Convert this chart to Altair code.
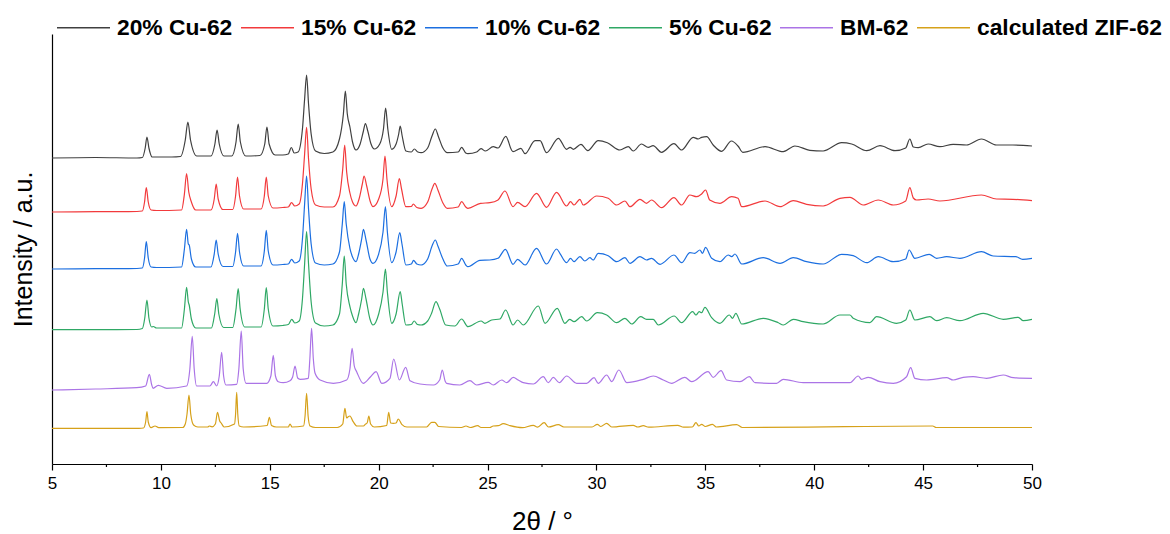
import altair as alt
import pandas as pd

SERIES = ["20% Cu-62", "15% Cu-62", "10% Cu-62", "5% Cu-62", "BM-62", "calculated ZIF-62"]
COLORS = ["#404040", "#f23a3c", "#1c6fe0", "#2fa865", "#ab74e6", "#d6a11a"]

# 2theta (deg) and stacked intensity (a.u., offsets included)
BLACK_X = [5.0, 7.0, 8.9, 9.15, 9.28, 9.36, 9.45, 9.6, 10.5, 10.9, 11.12, 11.24, 11.36, 11.65, 12.3, 12.48, 12.58, 12.68, 12.9, 13.25, 13.45, 13.55, 13.65, 13.9, 14.55, 14.77, 14.87, 14.97, 15.25, 15.6, 15.85, 15.99, 16.12, 16.3, 16.5, 16.6, 16.69, 16.78, 16.9, 17.1, 17.5, 17.9, 18.2, 18.38, 18.47, 18.56, 18.68, 18.8, 18.96, 19.15, 19.3, 19.39, 19.5, 19.65, 19.8, 20.05, 20.22, 20.32, 20.42, 20.6, 20.8, 20.92, 20.99, 21.08, 21.25, 21.5, 21.64, 21.8, 21.95, 22.25, 22.45, 22.6, 22.75, 22.95, 23.15, 23.65, 23.81, 24.0, 24.1, 24.5, 24.7, 24.9, 25.26, 25.48, 25.84, 26.1, 26.17, 26.53, 26.72, 27.18, 27.41, 27.71, 28.25, 28.63, 28.79, 28.94, 29.29, 29.6, 30.08, 30.5, 31.08, 31.46, 31.69, 32.07, 32.38, 32.6, 32.99, 33.56, 33.91, 34.44, 34.67, 34.83, 35.06, 35.36, 35.75, 36.2, 36.5, 36.72, 37.74, 38.58, 39.11, 39.8, 40.41, 41.26, 41.72, 42.41, 43.02, 43.71, 44.2, 44.39, 44.55, 44.78, 45.23, 45.77, 46.38, 46.99, 47.68, 48.37, 49.12, 50.0]
BLACK_Y = [306, 306.5, 306, 306.5, 316, 327, 316, 307, 307, 307.5, 324, 342, 324, 308, 308, 320, 334, 320, 308, 308, 322, 340, 322, 308, 308.5, 320, 337, 320, 309, 309, 310, 316.5, 311, 312, 335, 365, 389, 360, 330, 313, 310.5, 312, 325, 350, 373, 350, 337, 322, 314, 320, 333, 340.5, 333, 320, 315, 320, 335, 356, 335, 314.7, 320, 330, 338, 328, 313, 312, 315, 312, 311.3, 316, 328, 335, 327, 316, 311.3, 312, 316.7, 311, 310.3, 312, 315.3, 313, 317.3, 316, 327.7, 314, 312.3, 315.7, 310.3, 323.3, 323.3, 311.3, 325.7, 314.7, 316.7, 314.7, 319.7, 313.3, 323.3, 321.3, 314, 317.3, 313, 320, 316.7, 318.3, 311.7, 320.3, 314, 326.7, 325, 326.7, 327.3, 319, 312.7, 323, 318, 311.7, 317.3, 312.3, 318, 313.7, 313, 321.3, 320, 313.3, 318.3, 313.3, 316, 325, 317, 316.3, 320, 317.3, 319.7, 319, 325, 319, 319, 318]

RED_X = [5.0, 7.0, 8.9, 9.15, 9.25, 9.33, 9.42, 9.55, 9.8, 10.95, 11.08, 11.18, 11.28, 11.4, 11.6, 12.3, 12.45, 12.54, 12.63, 12.85, 13.3, 13.43, 13.52, 13.61, 13.8, 14.6, 14.75, 14.84, 14.93, 15.15, 15.6, 15.85, 16.0, 16.15, 16.35, 16.5, 16.6, 16.69, 16.78, 16.9, 17.1, 17.5, 17.9, 18.2, 18.35, 18.44, 18.53, 18.68, 18.8, 18.96, 19.1, 19.25, 19.33, 19.45, 19.62, 19.74, 20.0, 20.2, 20.29, 20.38, 20.6, 20.8, 20.95, 21.05, 21.25, 21.5, 21.59, 21.75, 21.95, 22.25, 22.45, 22.58, 22.72, 22.95, 23.15, 23.65, 23.81, 24.0, 24.1, 24.68, 25.11, 25.48, 25.8, 26.17, 26.38, 26.72, 27.25, 27.71, 28.17, 28.63, 28.81, 28.97, 29.24, 29.39, 30.01, 30.54, 30.93, 31.31, 31.54, 32.0, 32.3, 32.53, 32.99, 33.56, 33.91, 34.29, 34.6, 34.83, 35.01, 35.2, 35.67, 36.21, 36.5, 36.67, 37.74, 38.43, 39.04, 39.65, 40.41, 41.18, 41.64, 42.25, 42.94, 43.63, 44.2, 44.39, 44.55, 44.7, 45.23, 45.77, 47.68, 48.37, 49.12, 50.0]
RED_Y = [252, 252.3, 252.5, 253, 262, 276.5, 262, 254, 253.5, 254, 270, 290.5, 272, 262, 254, 254, 265, 280, 265, 254.5, 254.5, 268, 287, 268, 255, 255, 268, 287, 268, 256, 256.5, 257, 261.3, 258, 260, 280, 310, 336.7, 305, 275, 259, 257, 257, 268, 295, 319, 292, 271, 262, 258, 265, 280, 288, 278, 262, 257.3, 265, 285, 308, 285, 257.3, 268, 285.3, 275, 257.3, 257.5, 260, 256.5, 255.7, 262, 275, 280.7, 274, 261, 255.7, 257, 262.3, 257, 255.7, 260.7, 261.3, 264, 273, 257.3, 261.7, 257.3, 270.7, 256.7, 271.7, 258, 262.3, 259, 264.7, 259, 268, 265.7, 259, 263, 257.3, 264.7, 260.7, 264, 256.3, 266.3, 259, 269, 267.3, 270, 274, 264, 260.7, 267.3, 265.7, 257.3, 263, 257.3, 263.3, 259.7, 258, 265.7, 266.7, 259, 264, 259, 263, 276.3, 266, 264, 265, 263, 269, 265, 264.7, 263.3]

BLUE_X = [5.0, 7.0, 8.9, 9.15, 9.25, 9.33, 9.42, 9.55, 9.8, 10.95, 11.08, 11.18, 11.26, 11.3, 11.4, 11.6, 12.3, 12.45, 12.54, 12.63, 12.85, 13.3, 13.43, 13.52, 13.61, 13.8, 14.6, 14.75, 14.84, 14.93, 15.15, 15.6, 15.85, 16.0, 16.15, 16.35, 16.5, 16.6, 16.69, 16.78, 16.9, 17.1, 17.5, 17.9, 18.2, 18.33, 18.42, 18.51, 18.68, 18.8, 18.96, 19.08, 19.22, 19.3, 19.42, 19.6, 19.74, 20.0, 20.2, 20.31, 20.4, 20.6, 20.8, 20.97, 21.07, 21.25, 21.5, 21.6, 21.75, 21.95, 22.25, 22.45, 22.6, 22.72, 22.95, 23.15, 23.65, 23.81, 24.0, 24.1, 24.65, 25.1, 25.48, 25.82, 26.17, 26.38, 26.72, 27.25, 27.71, 28.17, 28.32, 28.63, 28.81, 28.97, 29.24, 29.47, 29.7, 29.85, 30.08, 30.54, 30.93, 31.31, 31.54, 32.0, 32.3, 32.53, 32.92, 33.56, 33.91, 34.29, 34.52, 34.75, 34.87, 35.01, 35.29, 35.67, 36.05, 36.21, 36.36, 36.67, 37.66, 38.43, 39.04, 39.65, 40.41, 41.26, 41.79, 42.41, 42.94, 43.63, 44.2, 44.36, 44.62, 45.28, 45.62, 46.08, 46.69, 47.68, 48.22, 49.26, 49.57, 50.0]
BLUE_Y = [195, 195.3, 195.5, 196, 206, 222.3, 206, 197, 196.5, 197, 215, 234.7, 220, 219, 205, 197, 197, 210, 224, 210, 197.5, 197.5, 212, 230.7, 212, 198, 198, 213, 233.7, 213, 199, 199.5, 200, 204.7, 201, 203, 225, 260, 288, 255, 220, 201, 199, 200, 212, 240, 262.3, 240, 215.7, 207, 202.3, 210, 225, 234.7, 224, 205, 200.7, 210, 232, 257.3, 232, 201.3, 212, 231.3, 220, 199, 200, 203.7, 200, 199, 205, 218, 224, 218, 205, 198, 200, 205.7, 199, 197.3, 203.7, 204, 205.7, 214.7, 199.7, 204.7, 199, 215.7, 200, 215, 210.7, 201.3, 205.7, 202.3, 207.3, 203, 206.3, 204, 210.7, 208.3, 202.3, 206.3, 200.7, 207.3, 204, 205.7, 199.7, 209, 201.3, 211.3, 210.7, 214, 210.7, 216.7, 205.7, 202.3, 209, 207.3, 210, 200, 206.3, 200.7, 206.3, 202.3, 200, 209.7, 208.3, 201.3, 207.3, 202.3, 205, 214, 205.7, 209.7, 205.7, 207.3, 205.7, 212.3, 208, 207.3, 204.7, 205.7]

GREEN_X = [5.0, 7.0, 8.9, 9.15, 9.26, 9.36, 9.45, 9.58, 9.65, 9.8, 10.95, 11.08, 11.18, 11.26, 11.3, 11.4, 11.6, 12.32, 12.47, 12.57, 12.66, 12.88, 13.3, 13.45, 13.55, 13.64, 13.85, 14.6, 14.75, 14.84, 14.93, 15.15, 15.6, 15.85, 16.01, 16.15, 16.35, 16.5, 16.6, 16.69, 16.78, 16.9, 17.1, 17.5, 17.9, 18.2, 18.33, 18.42, 18.51, 18.68, 18.8, 18.96, 19.08, 19.22, 19.3, 19.42, 19.6, 19.74, 20.0, 20.2, 20.31, 20.4, 20.6, 20.8, 20.99, 21.08, 21.25, 21.5, 21.63, 21.78, 21.95, 22.25, 22.43, 22.63, 22.8, 23.08, 23.5, 23.81, 24.1, 24.7, 24.88, 25.19, 25.57, 25.83, 26.17, 26.38, 26.64, 27.33, 27.64, 28.2, 28.55, 28.77, 28.97, 29.32, 29.55, 30.04, 30.47, 30.93, 31.31, 31.62, 32.03, 32.3, 32.61, 32.84, 33.57, 33.91, 34.42, 34.57, 34.72, 34.83, 34.98, 35.29, 35.67, 36.1, 36.25, 36.4, 36.67, 37.66, 38.35, 38.58, 39.04, 39.49, 40.41, 41.18, 41.64, 41.79, 42.56, 42.86, 43.78, 44.2, 44.39, 44.62, 45.31, 45.62, 46.08, 46.69, 47.76, 48.68, 49.37, 49.6, 50.0]
GREEN_Y = [134.3, 134.4, 134.5, 135.5, 146, 164, 146, 137, 137.5, 136, 136, 155, 176.7, 162, 159, 145, 136, 136, 150, 165.3, 150, 136.5, 136.5, 155, 175.3, 155, 137, 137, 155, 176.3, 155, 138, 138.5, 139.5, 144.7, 141, 143, 165, 200, 232.3, 200, 162, 141, 138, 139, 150, 180, 208, 180, 157.3, 148, 141.3, 150, 165, 175.7, 165, 145, 139, 150, 172, 195, 172, 140.7, 150, 172.3, 160, 139, 139.5, 143, 139.5, 139, 143, 150.7, 162.3, 155, 139, 138, 145, 137.3, 143, 140.7, 144, 145, 154, 139, 144, 139, 158, 140.7, 155.7, 140.7, 144.7, 142.3, 147.3, 143, 151.3, 149, 141.3, 145.7, 140, 147.3, 144.7, 144.7, 139, 148, 141.3, 152.3, 149, 152.3, 151.3, 156.7, 146.3, 140.7, 149, 145.7, 150.7, 140, 145.7, 141.3, 139, 144.7, 142.3, 140, 149, 149, 145.7, 141.3, 147.3, 140.7, 144, 154, 144, 147.3, 143.3, 146.3, 143.3, 150.7, 144.7, 146.7, 143.3, 144.7]

PURPLE_X = [5.0, 7.0, 8.89, 9.3, 9.47, 9.58, 9.64, 9.88, 10.27, 11.18, 11.33, 11.44, 11.53, 11.64, 12.25, 12.41, 12.56, 12.68, 12.79, 12.88, 12.99, 13.48, 13.58, 13.69, 13.78, 13.91, 14.86, 15.05, 15.16, 15.26, 15.39, 15.62, 15.93, 16.05, 16.16, 16.28, 16.39, 16.77, 16.84, 16.92, 17.0, 17.08, 17.31, 17.92, 18.53, 18.68, 18.78, 18.88, 18.99, 19.29, 19.63, 19.88, 20.14, 20.52, 20.69, 20.95, 21.24, 21.44, 21.9, 22.51, 22.8, 22.92, 23.05, 23.12, 23.73, 24.19, 24.5, 25.03, 25.26, 25.65, 25.88, 26.18, 26.41, 26.64, 27.1, 27.56, 27.79, 28.02, 28.29, 28.63, 29.09, 29.55, 29.89, 30.08, 30.47, 30.7, 31.03, 31.39, 32.15, 32.61, 33.07, 33.45, 34.06, 34.37, 35.13, 35.36, 35.72, 35.98, 36.59, 37.02, 37.28, 38.27, 38.58, 39.49, 40.26, 41.64, 42.02, 42.17, 42.48, 43.02, 43.63, 44.24, 44.43, 44.62, 45.16, 46.08, 46.38, 46.84, 47.3, 47.91, 48.68, 49.14, 50.0]
PURPLE_Y = [74, 75, 76.3, 78, 89.7, 79, 75.7, 78.7, 75.7, 78, 95, 127.7, 95, 78, 78, 82.3, 78, 88, 111.7, 88, 79, 79.7, 95, 133, 95, 80.7, 80.7, 88, 108.7, 88, 82.3, 81.3, 83.3, 87, 98, 86, 84.7, 85.7, 105, 135.7, 105, 90.7, 84, 80.7, 84, 95, 115.7, 98, 92.3, 80.7, 87.3, 92.3, 80.7, 85.7, 105, 84, 96.7, 83.3, 80, 79, 84, 94, 83, 80.7, 79, 83.3, 79, 81.7, 79, 84, 81.3, 86.7, 84, 81.3, 80, 87.3, 81.3, 86.7, 81.3, 88, 80.7, 80.7, 86.3, 80.7, 89, 82.3, 94, 81.3, 84.7, 88, 84, 80.7, 86.7, 82.3, 92.3, 86.7, 93.3, 84, 82.3, 87.3, 81.3, 80.7, 84.7, 81.3, 81.3, 81.3, 88, 84.7, 86.7, 82.3, 80.7, 87.3, 96.3, 85.7, 84, 86.3, 84, 86.7, 87.3, 85.7, 89, 86.3, 85.7]

GOLD_X = [5.0, 7.0, 9.0, 9.2, 9.3, 9.36, 9.42, 9.55, 9.73, 9.9, 11.0, 11.12, 11.2, 11.29, 11.37, 11.5, 11.7, 12.15, 12.22, 12.35, 12.5, 12.6, 12.7, 12.78, 12.9, 13.38, 13.43, 13.48, 13.53, 13.6, 13.8, 14.88, 14.98, 15.08, 15.3, 15.85, 15.93, 16.02, 16.55, 16.62, 16.69, 16.76, 16.85, 17.1, 18.1, 18.35, 18.45, 18.53, 18.6, 18.68, 18.83, 19.0, 19.3, 19.4, 19.47, 19.55, 19.63, 19.8, 20.37, 20.46, 20.55, 20.67, 20.8, 20.9, 21.06, 21.3, 22.2, 22.43, 22.58, 22.75, 23.8, 24.01, 24.2, 24.55, 24.7, 25.1, 25.26, 25.49, 25.72, 26.03, 26.6, 27.1, 27.3, 27.6, 27.8, 28.25, 28.5, 29.8, 30.04, 30.2, 30.47, 30.7, 31.69, 31.9, 32.15, 32.4, 33.73, 34.0, 34.4, 34.57, 34.7, 34.83, 35.0, 35.33, 35.5, 36.44, 36.7, 41.4, 45.44, 45.6, 50.0]
GOLD_Y = [35.7, 35.7, 35.7, 36, 42, 52.3, 42, 36.3, 38, 36.3, 36.5, 40, 50, 69, 50, 39, 37, 37, 38, 37.2, 40, 51.7, 43, 40.7, 37, 40, 50, 71.7, 50, 38, 37, 38.5, 46.7, 38.5, 37, 37, 40, 37, 38, 48, 70.7, 48, 38, 36.5, 36.5, 40, 55.7, 46, 47.3, 48, 42.3, 38, 38, 40, 41, 48, 40, 37, 38.5, 51.7, 41, 40.7, 41, 45, 39.7, 37, 37, 41.7, 41.7, 37.5, 36.5, 38, 36.5, 38.3, 36.5, 36.5, 38, 38.3, 40.3, 38.3, 36.3, 38.7, 36.8, 41.3, 37, 39.3, 37, 37, 39.7, 37.5, 40.7, 37, 38.7, 37, 38.3, 36.8, 38.7, 36.8, 37, 41.3, 38, 39.7, 37.5, 39.7, 37, 39.3, 36.5, 37.3, 38, 36.5, 36.5]

MAJOR_TICKS = [5, 10, 15, 20, 25, 30, 35, 40, 45, 50]
MINOR_TICKS = [7.5, 12.5, 17.5, 22.5, 27.5, 32.5, 37.5, 42.5, 47.5]

rows = []
for name, xs, ys in zip(SERIES,
                        [BLACK_X, RED_X, BLUE_X, GREEN_X, PURPLE_X, GOLD_X],
                        [BLACK_Y, RED_Y, BLUE_Y, GREEN_Y, PURPLE_Y, GOLD_Y]):
    for xv, yv in zip(xs, ys):
        rows.append({"two_theta": xv, "intensity": yv, "sample": name})
df = pd.DataFrame(rows)
minor_df = pd.DataFrame({"t": MINOR_TICKS})

FONT = "Liberation Sans"
W, H = 980, 430

xscale = alt.Scale(domain=[5, 50], nice=False, zero=False)

lines = alt.Chart(df).mark_line(strokeWidth=1.2, clip=True, interpolate="monotone").encode(
    x=alt.X("two_theta:Q", scale=xscale,
            axis=alt.Axis(title="2θ / °", values=MAJOR_TICKS, format="d",
                          tickSize=6, tickWidth=1.2, tickColor="black",
                          domainColor="black", domainWidth=1.2,
                          labelFont=FONT, labelFontSize=17, labelColor="black",
                          labelPadding=5, labelFlush=False,
                          titleFont=FONT, titleFontSize=26, titleFontWeight="normal",
                          titleColor="black", titlePadding=17, grid=False)),
    y=alt.Y("intensity:Q", scale=alt.Scale(domain=[0, 430], nice=False, zero=False),
            axis=alt.Axis(title="Intensity / a.u.", ticks=False, labels=False, tickSize=0,
                          domainColor="black", domainWidth=1.2, grid=False,
                          titleFont=FONT, titleFontSize=25, titleFontWeight="normal",
                          titleColor="black", titlePadding=16)),
    color=alt.Color("sample:N", sort=SERIES,
                    scale=alt.Scale(domain=SERIES, range=COLORS),
                    legend=alt.Legend(title=None, orient="none", direction="horizontal",
                                      legendX=4, legendY=-34,
                                      symbolType="stroke", symbolSize=2809,
                                      symbolStrokeWidth=1.5,
                                      labelFont=FONT, labelFontSize=22.8,
                                      labelFontWeight="bold", labelColor="black",
                                      labelOffset=6, columnPadding=5,
                                      labelLimit=400, columns=6)),
    order=alt.Order("two_theta:Q"),
)

minor = alt.Chart(minor_df).mark_rule(color="black", strokeWidth=1.2).encode(
    x=alt.X("t:Q", scale=xscale),
    y=alt.value(H),
    y2=alt.value(H + 3),
)

chart = alt.layer(lines, minor).properties(
    width=W, height=H,
    autosize=alt.AutoSizeParams(type="none"),
    padding={"left": 44, "top": 26, "right": 130, "bottom": 70},
).configure(background="white").configure_view(stroke=None)

chart.save("out.html", embed_options={"renderer": "svg", "actions": False})
